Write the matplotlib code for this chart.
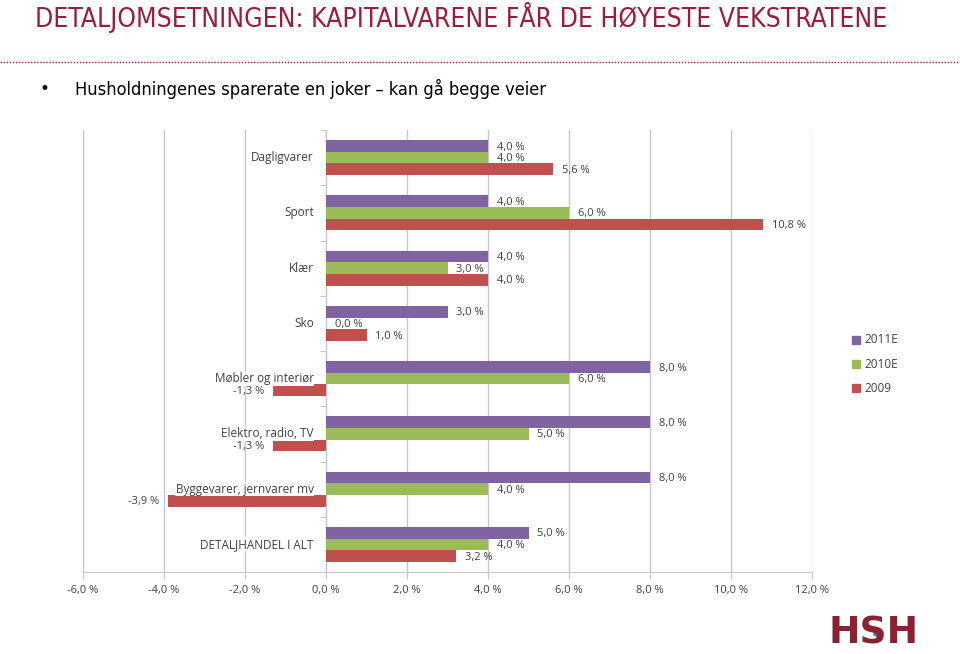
import matplotlib.pyplot as plt
import numpy as np
from matplotlib.patches import Rectangle, Circle

# ──────────────────────────────────────────────────────────────────────────────
# DATA
# ──────────────────────────────────────────────────────────────────────────────

categories = ["Dagligvarer", "Sport", "Klær", "Sko", "Møbler og interiør",
              "Elektro, radio, TV", "Byggevarer, jernvarer mv", "DETALJHANDEL I ALT"]
vals_2011 = [4.0, 4.0, 4.0, 3.0, 8.0, 8.0, 8.0, 5.0]
vals_2010 = [4.0, 6.0, 3.0, 0.0, 6.0, 5.0, 4.0, 4.0]
vals_2009 = [5.6, 10.8, 4.0, 1.0, -1.3, -1.3, -3.9, 3.2]
series_labels = ["2011E", "2010E", "2009"]
x_ticks = [-6, -4, -2, 0, 2, 4, 6, 8, 10, 12]

title = "DETALJOMSETNINGEN: KAPITALVARENE FÅR DE HØYESTE VEKSTRATENE"
bullet = "Husholdningenes sparerate en joker – kan gå begge veier"

# ──────────────────────────────────────────────────────────────────────────────
# STYLE
# ──────────────────────────────────────────────────────────────────────────────

C_2011 = "#8064A2"
C_2010 = "#9BBB59"
C_2009 = "#C0504D"
DARKRED = "#9B1D3C"
TXT = "#404040"
GRID = "#C9C3D6"
LABF = ["Open Sans", "DejaVu Sans"]

fig = plt.figure(figsize=(9.6, 6.54), dpi=100)

# header
fig.text(35 / 960, 1 - 17 / 654, title, fontsize=19, color=DARKRED,
         family="DejaVu Sans", stretch="condensed", va="center", ha="left")
fig.add_artist(plt.Line2D([0, 1], [1 - 62 / 654, 1 - 62 / 654], color=DARKRED,
                          lw=1.0, ls=(0, (1, 1.2)), transform=fig.transFigure))
fig.text(40 / 960, 1 - 89 / 654, "•", fontsize=12, color="black",
         va="center", ha="left")
fig.text(75 / 960, 1 - 89 / 654, bullet, fontsize=13.1, color="black",
         family="DejaVu Sans", stretch="condensed", va="center", ha="left")

# ──────────────────────────────────────────────────────────────────────────────
# CHART
# ──────────────────────────────────────────────────────────────────────────────

ax = fig.add_axes([83 / 960, 82 / 654, (812 - 83) / 960, (572 - 130) / 654])
y = np.arange(len(categories))
h = 0.21

for off, vals, col in [(-h, vals_2011, C_2011), (0, vals_2010, C_2010), (h, vals_2009, C_2009)]:
    ax.barh(y + off, vals, height=h, color=col, zorder=3)
    for yi, v in zip(y + off, vals):
        lab = f"{v:.1f}".replace(".", ",") + " %"
        if v >= 0:
            ax.text(v + 0.22, yi + 0.02, lab, ha="left", va="center", fontsize=8,
                    color=TXT, family=LABF, zorder=4)
        else:
            ax.text(v - 0.22, yi + 0.02, lab, ha="right", va="center", fontsize=8,
                    color=TXT, family=LABF, zorder=4)

for yi, cat in zip(y, categories):
    ax.text(-0.3, yi, cat, ha="right", va="center", fontsize=8.5, color=TXT,
            family=LABF, zorder=4,
            bbox=dict(facecolor="white", edgecolor="none", pad=0.3))

ax.set_xlim(-6, 12)
ax.set_ylim(len(categories) - 0.5, -0.5)
ax.set_xticks(x_ticks)
ax.set_xticklabels([f"{t:.1f}".replace(".", ",") + " %" for t in x_ticks],
                   fontsize=8, color=TXT, family=LABF)
ax.tick_params(axis="x", length=5, color=GRID, pad=4)
ax.grid(axis="x", color=GRID, lw=1, zorder=0)

ax.spines["top"].set_visible(False)
ax.spines["right"].set_visible(False)
ax.spines["left"].set_position(("data", 0))
ax.spines["left"].set_color(GRID)
ax.spines["bottom"].set_color(GRID)
ax.set_yticks(np.arange(len(categories) + 1) - 0.5)
ax.set_yticklabels([])
ax.tick_params(axis="y", length=4, color=GRID)

# legend
clip = Rectangle((0, 0), 924 / 960, 1, transform=fig.transFigure, visible=False)
fig.add_artist(clip)
for i, (lab, col) in enumerate(zip(series_labels, [C_2011, C_2010, C_2009])):
    yy = 1 - (340 + 24 * i) / 654
    fig.add_artist(Rectangle((852 / 960, yy - 4 / 654), 8 / 960, 8 / 654,
                             transform=fig.transFigure, color=col))
    t = fig.text(864 / 960, yy, lab, fontsize=8.5, color=TXT, family=LABF,
                 va="center", ha="left")
    t.set_clip_path(clip)

# logo
fig.text(829 / 960, 1 - 634 / 654, "HSH", fontsize=27, fontweight="bold",
         color="#8B2232", family=["DejaVu Sans"], va="center", ha="left")
fig.add_artist(Circle((877 / 960, 1 - 634 / 654), 3 / 960, transform=fig.transFigure,
                      color="#1E8FA0"))

plt.savefig("out.png", dpi=100)
